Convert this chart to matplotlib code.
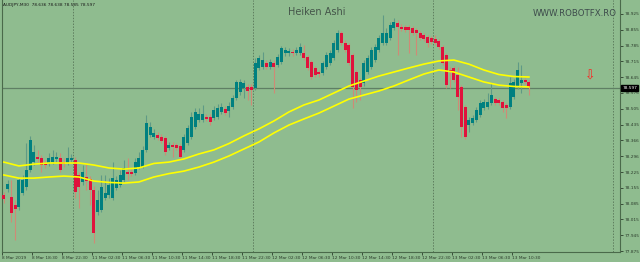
import matplotlib
matplotlib.use("Agg")
import matplotlib.pyplot as plt
from matplotlib.transforms import blended_transform_factory
from matplotlib import font_manager

# ---------------- data (Heiken Ashi bars, AUDJPY M30) ----------------
ha_open = [78.123, 78.150, 78.114, 78.079, 78.070, 78.132, 78.159, 78.234, 78.269, 78.292,
           78.287, 78.265, 78.265, 78.269, 78.283, 78.287, 78.269, 78.265, 78.278, 78.278,
           78.212, 78.181, 78.203, 78.194, 78.145, 78.048, 78.057, 78.110, 78.123, 78.110,
           78.154, 78.167, 78.190, 78.225, 78.225, 78.221, 78.247, 78.247, 78.323, 78.389,
           78.380, 78.389, 78.380, 78.376, 78.331, 78.345, 78.345, 78.340, 78.323, 78.354,
           78.380, 78.424, 78.455, 78.455, 78.469, 78.469, 78.464, 78.469, 78.491, 78.504,
           78.495, 78.513, 78.553, 78.579, 78.597, 78.602, 78.602, 78.597, 78.686, 78.690,
           78.708, 78.690, 78.708, 78.699, 78.712, 78.752, 78.752, 78.757, 78.752, 78.752,
           78.752, 78.735, 78.712, 78.686, 78.668, 78.664, 78.690, 78.708, 78.730, 78.766,
           78.841, 78.797, 78.788, 78.743, 78.668, 78.633, 78.619, 78.668, 78.690, 78.721,
           78.766, 78.797, 78.797, 78.819, 78.863, 78.885, 78.867, 78.867, 78.867, 78.863,
           78.854, 78.841, 78.832, 78.823, 78.819, 78.814, 78.805, 78.779, 78.743, 78.677,
           78.686, 78.655, 78.602, 78.513, 78.433, 78.442, 78.455, 78.478, 78.509, 78.513,
           78.531, 78.548, 78.544, 78.535, 78.522, 78.513, 78.557, 78.602, 78.619, 78.633,
           78.624]
ha_close = [78.105, 78.172, 78.043, 78.061, 78.190, 78.190, 78.234, 78.367, 78.314, 78.283,
            78.256, 78.256, 78.287, 78.292, 78.292, 78.234, 78.260, 78.287, 78.287, 78.136,
            78.159, 78.225, 78.185, 78.145, 77.955, 78.101, 78.159, 78.132, 78.167, 78.198,
            78.190, 78.212, 78.243, 78.216, 78.216, 78.269, 78.287, 78.323, 78.442, 78.424,
            78.398, 78.376, 78.362, 78.314, 78.345, 78.336, 78.331, 78.292, 78.380, 78.420,
            78.469, 78.491, 78.482, 78.482, 78.460, 78.447, 78.500, 78.509, 78.513, 78.486,
            78.517, 78.553, 78.624, 78.624, 78.619, 78.584, 78.588, 78.708, 78.730, 78.721,
            78.690, 78.712, 78.690, 78.735, 78.774, 78.766, 78.761, 78.752, 78.766, 78.779,
            78.730, 78.686, 78.646, 78.655, 78.659, 78.708, 78.743, 78.752, 78.797, 78.841,
            78.797, 78.766, 78.708, 78.602, 78.588, 78.602, 78.708, 78.730, 78.766, 78.779,
            78.819, 78.841, 78.841, 78.876, 78.890, 78.867, 78.859, 78.854, 78.854, 78.841,
            78.841, 78.819, 78.814, 78.797, 78.801, 78.797, 78.779, 78.708, 78.610, 78.668,
            78.633, 78.557, 78.424, 78.380, 78.455, 78.464, 78.500, 78.531, 78.535, 78.535,
            78.566, 78.531, 78.531, 78.509, 78.509, 78.619, 78.624, 78.677, 78.633, 78.624,
            78.602]
ha_high = [78.136, 78.190, 78.190, 78.101, 78.198, 78.212, 78.354, 78.385, 78.345, 78.323,
           78.300, 78.278, 78.309, 78.323, 78.314, 78.309, 78.287, 78.336, 78.305, 78.292,
           78.225, 78.256, 78.265, 78.207, 78.163, 78.145, 78.212, 78.212, 78.198, 78.269,
           78.207, 78.234, 78.278, 78.287, 78.238, 78.287, 78.314, 78.340, 78.478, 78.447,
           78.416, 78.402, 78.393, 78.385, 78.358, 78.358, 78.354, 78.349, 78.393, 78.433,
           78.491, 78.509, 78.509, 78.522, 78.482, 78.482, 78.517, 78.526, 78.531, 78.517,
           78.535, 78.566, 78.633, 78.637, 78.633, 78.615, 78.615, 78.730, 78.743, 78.757,
           78.721, 78.726, 78.721, 78.748, 78.783, 78.779, 78.774, 78.770, 78.779, 78.797,
           78.788, 78.743, 78.721, 78.695, 78.677, 78.717, 78.757, 78.766, 78.810, 78.854,
           78.850, 78.810, 78.797, 78.752, 78.677, 78.641, 78.721, 78.743, 78.779, 78.792,
           78.832, 78.921, 78.863, 78.890, 78.907, 78.898, 78.881, 78.876, 78.876, 78.872,
           78.863, 78.850, 78.841, 78.832, 78.828, 78.832, 78.814, 78.788, 78.752, 78.690,
           78.695, 78.690, 78.610, 78.522, 78.469, 78.478, 78.513, 78.544, 78.548, 78.575,
           78.619, 78.557, 78.553, 78.544, 78.531, 78.646, 78.637, 78.712, 78.699, 78.641,
           78.633]
ha_low = [78.088, 78.136, 78.004, 77.924, 78.057, 78.123, 78.145, 78.225, 78.256, 78.269,
          78.225, 78.243, 78.252, 78.260, 78.269, 78.225, 78.247, 78.256, 78.269, 78.110,
          78.066, 78.167, 78.145, 78.079, 77.911, 78.035, 78.048, 78.101, 78.110, 78.101,
          78.145, 78.159, 78.181, 78.190, 78.207, 78.212, 78.238, 78.243, 78.314, 78.380,
          78.371, 78.367, 78.354, 78.300, 78.323, 78.292, 78.323, 78.287, 78.314, 78.345,
          78.371, 78.416, 78.447, 78.447, 78.451, 78.433, 78.455, 78.460, 78.482, 78.478,
          78.469, 78.504, 78.544, 78.566, 78.553, 78.544, 78.522, 78.588, 78.677, 78.681,
          78.681, 78.681, 78.575, 78.690, 78.703, 78.739, 78.739, 78.739, 78.743, 78.743,
          78.721, 78.677, 78.637, 78.646, 78.646, 78.655, 78.681, 78.699, 78.721, 78.757,
          78.788, 78.757, 78.699, 78.509, 78.535, 78.544, 78.606, 78.659, 78.681, 78.712,
          78.757, 78.788, 78.788, 78.810, 78.854, 78.743, 78.850, 78.845, 78.752, 78.832,
          78.743, 78.810, 78.805, 78.779, 78.792, 78.788, 78.770, 78.699, 78.597, 78.597,
          78.624, 78.500, 78.380, 78.371, 78.402, 78.433, 78.447, 78.469, 78.500, 78.504,
          78.522, 78.522, 78.522, 78.491, 78.464, 78.504, 78.548, 78.593, 78.575, 78.615,
          78.566]

# envelope moving averages (sampled every 4 bars)
ma_bars = [0, 4, 8, 12, 16, 20, 24, 28, 32, 36, 40, 44, 48, 52, 56, 60, 64, 68,
           72, 76, 80, 84, 88, 92, 96, 100, 104, 108, 112, 116, 120, 124, 128, 132, 136, 140]
ma_upper = [78.269, 78.252, 78.260, 78.265, 78.265, 78.265, 78.256, 78.243, 78.238, 78.243,
            78.263, 78.269, 78.283, 78.305, 78.323, 78.351, 78.385, 78.416, 78.451, 78.491,
            78.522, 78.544, 78.575, 78.606, 78.628, 78.650, 78.668, 78.686, 78.703, 78.717,
            78.721, 78.703, 78.677, 78.657, 78.648, 78.646]
ma_lower = [78.212, 78.198, 78.198, 78.203, 78.207, 78.203, 78.185, 78.179, 78.176, 78.181,
            78.203, 78.218, 78.229, 78.247, 78.269, 78.296, 78.327, 78.358, 78.398, 78.433,
            78.460, 78.486, 78.517, 78.548, 78.566, 78.584, 78.606, 78.633, 78.659, 78.677,
            78.668, 78.646, 78.624, 78.610, 78.604, 78.602]

x_tick_bars = [-0.5 + 8 * k for k in range(18)]
x_tick_labels = ["8 Mar 2019", "8 Mar 18:30", "8 Mar 22:30", "11 Mar 02:30", "11 Mar 06:30",
                 "11 Mar 10:30", "11 Mar 14:30", "11 Mar 18:30", "11 Mar 22:30", "12 Mar 02:30",
                 "12 Mar 06:30", "12 Mar 10:30", "12 Mar 14:30", "12 Mar 18:30", "12 Mar 22:30",
                 "13 Mar 02:30", "13 Mar 06:30", "13 Mar 10:30"]
y_tick_labels = ["78.925", "78.855", "78.785", "78.715", "78.645", "78.576", "78.505", "78.435",
                 "78.366", "78.296", "78.225", "78.155", "78.085", "78.015", "77.945", "77.875"]
day_separators = [18.5, 66.5, 114.5, 162.5]
last_price = 78.597
header = "AUDJPY,M30  78.636 78.638 78.585 78.597"

# ---------------- style ----------------
BG = "#8fbc8f"
BULL = "#008080"
BEAR = "#e0123c"
BULL_WICK = "#5f9a86"
BEAR_WICK = "#cf8a76"
FG = "#2b3b2b"

names = {f.name for f in font_manager.fontManager.ttflist}
SMALL_FAMILY = ["Liberation Sans Narrow", "DejaVu Sans"] if "Liberation Sans Narrow" in names else ["DejaVu Sans"]
SMALL = 3.9 if "Liberation Sans Narrow" in names else 3.1

fig = plt.figure(figsize=(6.4, 2.62), dpi=100)
fig.patch.set_facecolor(BG)
ax = fig.add_axes([2 / 640, 10.5 / 262, 618 / 640, 251.5 / 262])
ax.set_facecolor(BG)

n = len(ha_open)
xs = list(range(n))

# day separators & last price line
for d in day_separators:
    ax.axvline(d, color="#5e7e5e", lw=0.7, ls=(0, (1.5, 1.5)), zorder=1)
ax.axhline(last_price, color="#5f7f64", lw=0.9, zorder=1)

# wicks
for i in xs:
    up = ha_close[i] >= ha_open[i]
    ax.vlines(i, ha_low[i], ha_high[i], color=BULL_WICK if up else BEAR_WICK, lw=0.8, zorder=2)

# bodies
heights = []
bottoms = []
colors = []
for i in xs:
    lo = min(ha_open[i], ha_close[i])
    hi = max(ha_open[i], ha_close[i])
    heights.append(max(hi - lo, 0.005))
    bottoms.append(lo)
    colors.append(BULL if ha_close[i] >= ha_open[i] else BEAR)
ax.bar(xs, heights, bottom=bottoms, width=0.75, color=colors, linewidth=0, zorder=3)

# yellow envelopes
ax.plot(ma_bars, ma_upper, color="#ffff00", lw=1.2, zorder=4)
ax.plot(ma_bars, ma_lower, color="#ffff00", lw=1.2, zorder=4)

# limits
ax.set_xlim(-0.5, 164.3)
ax.set_ylim(77.873, 78.987)

ax.spines["top"].set_visible(False)
for s in ["left", "right", "bottom"]:
    ax.spines[s].set_color("#4a6a4a")
    ax.spines[s].set_linewidth(0.8)

ax.yaxis.tick_right()
ax.set_yticks([float(v) for v in y_tick_labels])
ax.set_yticklabels(y_tick_labels, family=SMALL_FAMILY)
ax.tick_params(axis="y", direction="out", length=2.5, width=0.6, colors=FG, labelsize=SMALL, pad=1)

ax.set_xticks(x_tick_bars)
ax.set_xticklabels(x_tick_labels, family=SMALL_FAMILY)
ax.tick_params(axis="x", direction="out", length=2.5, width=0.6, colors=FG, labelsize=SMALL, pad=1)
for lab in ax.get_xticklabels():
    lab.set_horizontalalignment("left")

# texts
fig.text(3 / 640, 1 - 5 / 262, header, fontsize=SMALL, family=SMALL_FAMILY, color="#1a1a1a",
         va="center", ha="left")
fig.text(317 / 640, 1 - 12 / 262, "Heiken Ashi", fontsize=7, color="#45554a", va="center", ha="center")
fig.text(575 / 640, 1 - 14 / 262, "WWW.ROBOTFX.RO", fontsize=6.2, color="#3e4c4c", va="center", ha="center")

# down-arrow object
ax.text(156.3, 78.650, "\u21e9", color="#ff2020", fontsize=9, ha="center", va="center", zorder=5)

# current price label
trans = blended_transform_factory(ax.transAxes, ax.transData)
ax.text(1.004, last_price, "78.597", transform=trans, fontsize=SMALL, family=SMALL_FAMILY,
        color="white", ha="left", va="center", zorder=6,
        bbox=dict(boxstyle="square,pad=0.25", fc="black", ec="black"))

fig.savefig("out.png", dpi=100, facecolor=BG)
